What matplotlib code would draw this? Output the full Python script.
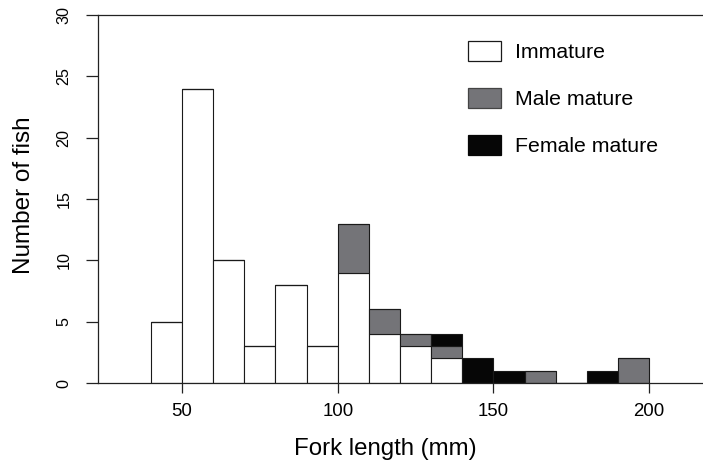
import matplotlib
matplotlib.use("Agg")
import matplotlib.pyplot as plt
from matplotlib.patches import Patch
import numpy as np

plt.rcParams['font.family'] = ['Liberation Sans', 'DejaVu Sans']

# Data
bin_left = [40, 50, 60, 70, 80, 90, 100, 110, 120, 130, 140, 150, 160, 170, 180, 190]
bin_width = 10
immature = [5, 24, 10, 3, 8, 3, 9, 4, 3, 2, 0, 0, 0, 0, 0, 0]
male_mature = [0, 0, 0, 0, 0, 0, 4, 2, 1, 1, 0, 0, 1, 0, 0, 2]
female_mature = [0, 0, 0, 0, 0, 0, 0, 0, 0, 1, 2, 1, 0, 0, 1, 0]
labels = ["Immature", "Male mature", "Female mature"]
x_ticks = [50, 100, 150, 200]
y_ticks = [0, 5, 10, 15, 20, 25, 30]

c_imm = "white"
c_male = "#747478"
c_fem = "#060606"
edge = "#1a1a1a"

fig = plt.figure(figsize=(7.03, 4.65), dpi=100)
ax = fig.add_axes([97.7 / 703, 82 / 465, 1 - 97.7 / 703, 368 / 465])

imm = np.array(immature)
mal = np.array(male_mature)
fem = np.array(female_mature)

kw = dict(width=bin_width, align="edge", edgecolor=edge, linewidth=0.8)
ax.bar(bin_left, imm, color=c_imm, **kw)
ax.bar(bin_left, mal, bottom=imm, color=c_male, **kw)
ax.bar(bin_left, fem, bottom=imm + mal, color=c_fem, **kw)

ax.set_xlim(22.9, 217.3)
ax.set_ylim(0, 30)

for s in ["left", "top", "bottom"]:
    ax.spines[s].set_color("#222222")
    ax.spines[s].set_linewidth(0.9)
ax.spines["right"].set_visible(False)

ax.set_xticks(x_ticks)
ax.set_yticks(y_ticks)
ax.set_xticklabels([str(v) for v in x_ticks], fontsize=13.4)
ax.set_yticklabels([str(v) for v in y_ticks], fontsize=11.6, rotation=90, va="center")
ax.tick_params(axis="x", length=7.5, width=0.9, color="#222222", pad=7)
ax.tick_params(axis="y", length=9, width=0.9, color="#222222", pad=10)

ax.set_xlabel("Fork length (mm)", fontsize=17.3, va="center")
ax.xaxis.set_label_coords(0.475, -0.179)
ax.set_ylabel("Number of fish", fontsize=17.5, va="center")
ax.yaxis.set_label_coords(-0.122, 0.51)

handles = [
    Patch(facecolor=c_imm, edgecolor=edge, linewidth=0.9),
    Patch(facecolor=c_male, edgecolor="#444444", linewidth=0.9),
    Patch(facecolor=c_fem, edgecolor=c_fem, linewidth=0.9),
]
leg = ax.legend(handles, labels, loc="upper left",
                bbox_to_anchor=((468 - 97.7) / 605.3, 1 - (41 - 15) / 368),
                frameon=False, fontsize=15.3, handlelength=1.55, handleheight=1.1,
                handletextpad=0.66, labelspacing=1.2, borderpad=0, borderaxespad=0)

fig.savefig("out.png", dpi=100)
